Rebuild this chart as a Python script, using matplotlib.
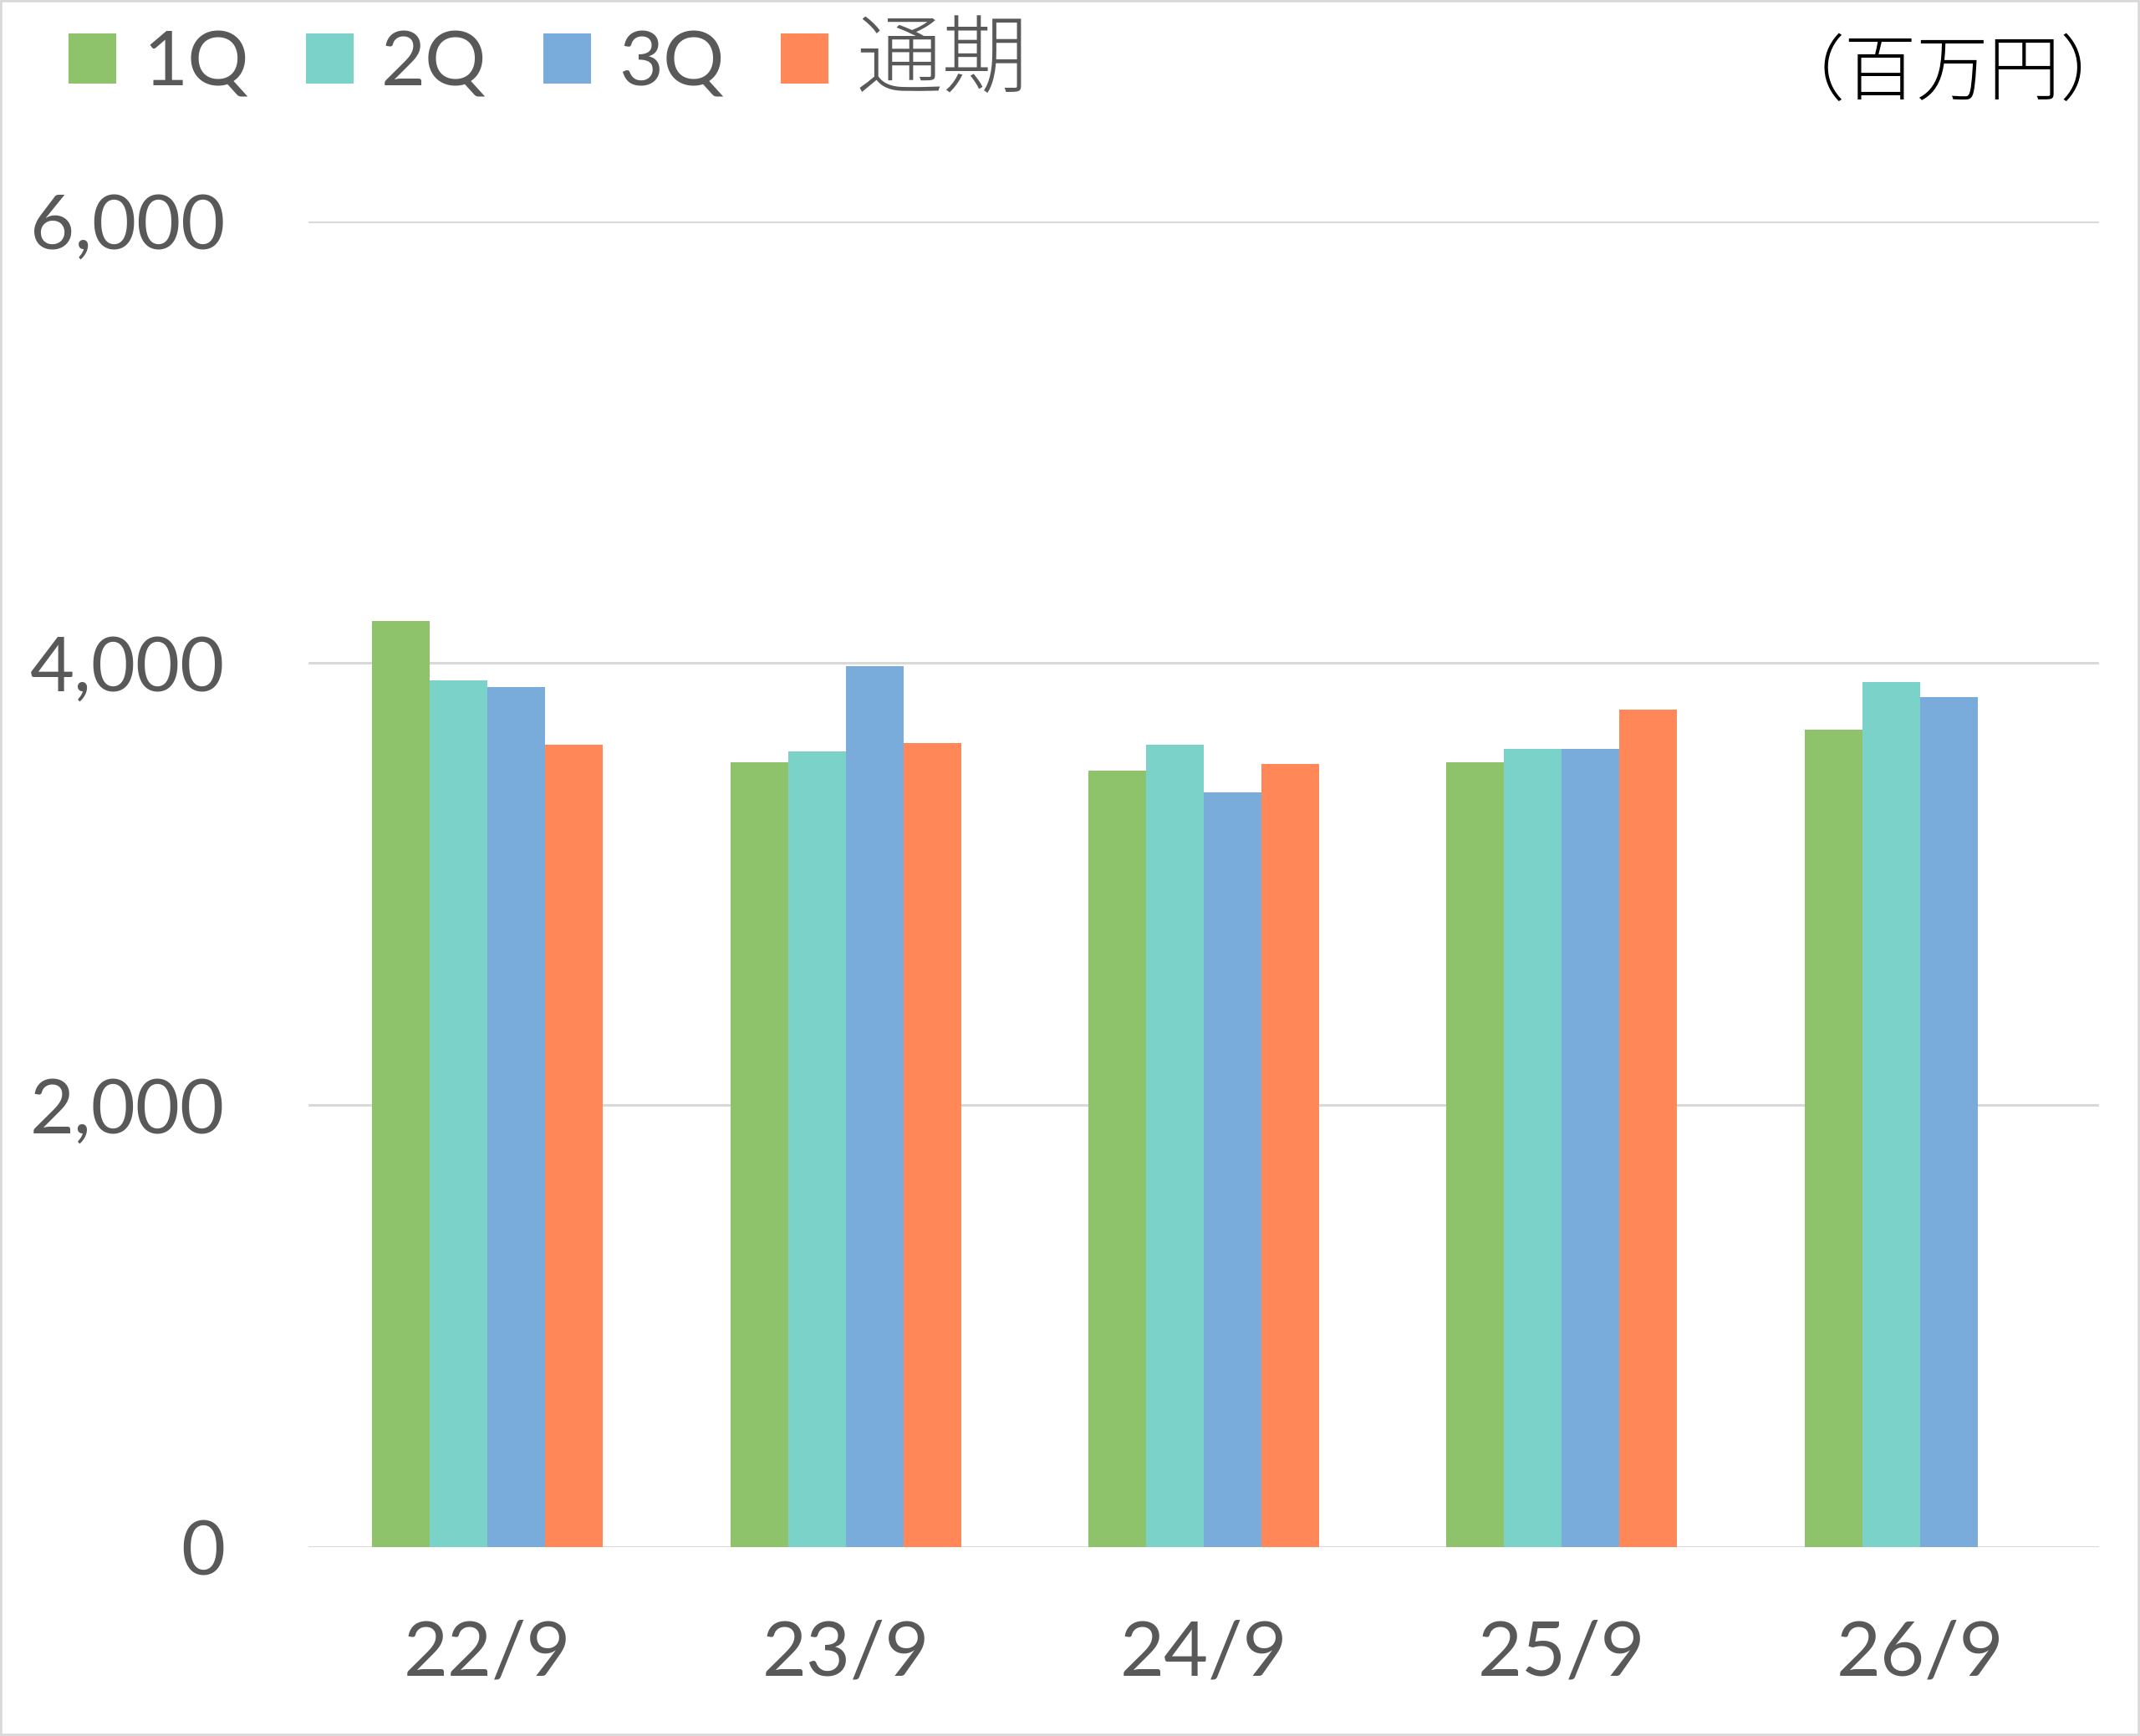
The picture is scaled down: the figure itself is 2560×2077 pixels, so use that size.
import numpy as np
import matplotlib
matplotlib.use('Agg')
import matplotlib.pyplot as plt
from matplotlib.patches import Rectangle

plt.rcParams['font.family'] = ['Lato', 'Noto Sans CJK JP', 'DejaVu Sans']

# data (百万円)
years = ['22/9', '23/9', '24/9', '25/9', '26/9']
q1 = [4190, 3550, 3515, 3550, 3700]
q2 = [3920, 3600, 3630, 3610, 3915]
q3 = [3890, 3985, 3415, 3610, 3845]
full = [3630, 3640, 3545, 3790, np.nan]

names = ['1Q', '2Q', '3Q', '通期']
colors = ['#8FC36B', '#7AD2C8', '#7AACDB', '#FF8758']
grey = '#595959'

W, H = 2560, 2077
fig = plt.figure(figsize=(W/100, H/100), dpi=100)
ax = fig.add_axes([369/W, 1 - 1851/H, (2511-369)/W, (1851-264.5)/H])

x = np.arange(len(years))
w = 0.161
for k, (vals, c, n) in enumerate(zip([q1, q2, q3, full], colors, names)):
    ax.bar(x + (k - 1.5)*w, vals, width=w, color=c, label=n, zorder=3, linewidth=0)

ax.set_xlim(-0.5, len(years) - 0.5)
ax.set_ylim(0, 6000)
ax.set_yticks([0, 2000, 4000, 6000])
ax.yaxis.set_major_formatter(matplotlib.ticker.FuncFormatter(lambda v, p: f'{int(v):,}'))
ax.set_xticks(x)
ax.set_xticklabels(years)
ax.tick_params(axis='both', length=0, labelsize=66, labelcolor=grey)
ax.tick_params(axis='y', pad=72)
ax.tick_params(axis='x', pad=62)
ax.grid(axis='y', color='#D9D9D9', linewidth=2.2, zorder=0)
for s in ax.spines.values():
    s.set_visible(False)

leg = fig.legend(loc='center left', bbox_to_anchor=(82/W, 1 - 74/H), ncol=4,
                 frameon=False, fontsize=66, handlelength=0.62, handleheight=0.62,
                 handletextpad=0.36, columnspacing=0.74, borderaxespad=0, borderpad=0)
for t in leg.get_texts():
    t.set_color(grey)
leg.get_texts()[-1].set_fontsize(74)
leg.get_texts()[-1].set_fontweight('light')

fig.text(2336/W, 1 - 89/H, '（百万円）', ha='center', va='center', fontsize=62,
         family=['Noto Sans CJK JP'], color='black', fontweight='light')

fig.patches.append(Rectangle((0, 0), 1, 1, transform=fig.transFigure, fill=False,
                             edgecolor='#D9D9D9', linewidth=4))

fig.savefig('out.png', dpi=100)
